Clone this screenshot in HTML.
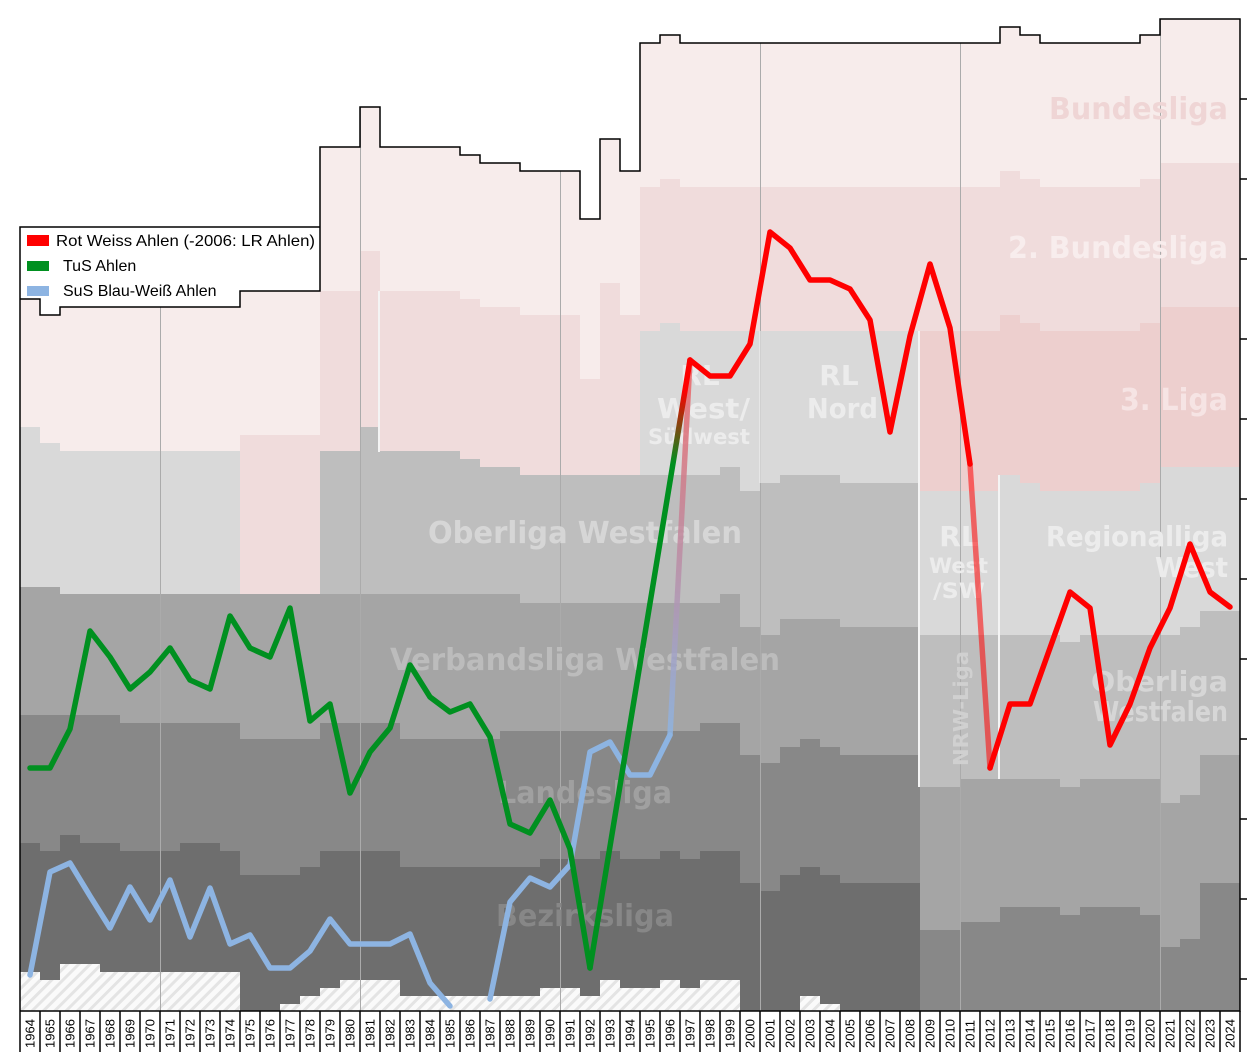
<!DOCTYPE html>
<html><head><meta charset="utf-8"><style>
html,body{margin:0;padding:0;background:#fff;}
svg{display:block;}
</style></head><body>
<svg id="s" xmlns="http://www.w3.org/2000/svg" width="1259" height="1061" viewBox="0 0 1259 1061">
<defs>
<pattern id="h" patternUnits="userSpaceOnUse" width="8" height="8" patternTransform="rotate(45)">
<rect width="8" height="8" fill="#fafafa"/><rect width="3" height="8" fill="#e4e4e4"/>
</pattern>
<linearGradient id="gb" gradientUnits="userSpaceOnUse" x1="670" y1="735" x2="690" y2="360">
<stop offset="0" stop-color="#8db4e2"/><stop offset="1" stop-color="#f06060"/></linearGradient>
<linearGradient id="gg" gradientUnits="userSpaceOnUse" x1="590" y1="968" x2="690" y2="360">
<stop offset="0" stop-color="#009020"/><stop offset="0.83" stop-color="#009020"/><stop offset="0.95" stop-color="#ff0000"/><stop offset="1" stop-color="#ff0000"/></linearGradient>
</defs>
<g id="bands"></g>
<g id="grid"></g>
<g fill="none" stroke="#f4f4f4" stroke-width="2">
<line x1="379" y1="291" x2="379" y2="452"/>
<line x1="919" y1="331" x2="919" y2="787"/>
<line x1="999" y1="475" x2="999" y2="779"/>
<line x1="760" y1="331" x2="760" y2="483" stroke-width="1"/>
</g>
<g font-family="'DejaVu Sans',sans-serif" font-weight="bold" lengthAdjust="spacingAndGlyphs">
<text x="1228" y="119" font-size="30" fill="#efd5d5" text-anchor="end" textLength="179" lengthAdjust="spacingAndGlyphs">Bundesliga</text>
<text x="1228" y="258" font-size="30" fill="#f8eded" text-anchor="end" textLength="220" lengthAdjust="spacingAndGlyphs">2. Bundesliga</text>
<text x="1228" y="410" font-size="30" fill="#f6e4e4" text-anchor="end" textLength="108" lengthAdjust="spacingAndGlyphs">3. Liga</text>
<text x="700" y="385" font-size="28" fill="#ececec" text-anchor="middle">RL</text>
<text x="657" y="418" font-size="28" fill="#ececec" textLength="93" lengthAdjust="spacingAndGlyphs">West/</text>
<text x="648" y="444" font-size="21" fill="#ececec" textLength="102" lengthAdjust="spacingAndGlyphs">Südwest</text>
<text x="839" y="385" font-size="28" fill="#ececec" text-anchor="middle">RL</text>
<text x="807" y="418" font-size="28" fill="#ececec" textLength="71" lengthAdjust="spacingAndGlyphs">Nord</text>
<text x="428" y="543" font-size="30" fill="#d6d6d6" textLength="314" lengthAdjust="spacingAndGlyphs">Oberliga Westfalen</text>
<text x="390" y="670" font-size="30" fill="#bcbcbc" textLength="390" lengthAdjust="spacingAndGlyphs">Verbandsliga Westfalen</text>
<text x="498" y="803" font-size="30" fill="#a0a0a0" textLength="174" lengthAdjust="spacingAndGlyphs">Landesliga</text>
<text x="496" y="926" font-size="30" fill="#878787" textLength="178" lengthAdjust="spacingAndGlyphs">Bezirksliga</text>
<text x="959" y="546" font-size="28" fill="#ececec" text-anchor="middle">RL</text>
<text x="929" y="573" font-size="21" fill="#ececec" textLength="59" lengthAdjust="spacingAndGlyphs">West</text>
<text x="933" y="598" font-size="21" fill="#ececec" textLength="52" lengthAdjust="spacingAndGlyphs">/SW</text>
<text transform="translate(968,766) rotate(-90)" font-size="20" fill="#d0d0d0" textLength="115" lengthAdjust="spacingAndGlyphs">NRW-Liga</text>
<text x="1228" y="546" font-size="28" fill="#ececec" text-anchor="end" textLength="182" lengthAdjust="spacingAndGlyphs">Regionalliga</text>
<text x="1228" y="577" font-size="28" fill="#ececec" text-anchor="end" textLength="73" lengthAdjust="spacingAndGlyphs">West</text>
<text x="1228" y="691" font-size="28" fill="#d6d6d6" text-anchor="end" textLength="137" lengthAdjust="spacingAndGlyphs">Oberliga</text>
<text x="1228" y="721" font-size="28" fill="#d6d6d6" text-anchor="end" textLength="135" lengthAdjust="spacingAndGlyphs">Westfalen</text>
</g>
<g fill="none" stroke-linejoin="round" stroke-linecap="round" stroke-width="5.5">
<polyline stroke="#8db4e2" points="30,975 50,872 70,863 90,896 110,928 130,887 150,920 170,880 190,937 210,888 230,944 250,935 270,968 290,968 310,951 330,919 350,944 370,944 390,944 410,934 430,983 450,1006"/>
<polyline stroke="#8db4e2" points="490,999 510,902 530,878 550,887 570,865 590,752 610,742 630,775 650,775 670,735"/>
<line x1="670" y1="735" x2="690" y2="360" stroke="url(#gb)" opacity="0.85"/>
<polyline stroke="#009020" points="30,768 50,768 70,729 90,631 110,657 130,689 150,672 170,648 190,680 210,689 230,616 250,648 270,657 290,608 310,721 330,704 350,793 370,752 390,728 410,665 430,697 450,712 470,704 490,737 510,824 530,833 550,800 570,849 590,968"/>
<line x1="590" y1="968" x2="690" y2="360" stroke="url(#gg)"/>
<polyline stroke="#ff0000" points="690,360 710,376 730,376 750,344 770,232 790,248 810,280 830,280 850,289 870,320 890,432 910,336 930,264 950,328 970,464"/>
<line x1="970" y1="464" x2="990" y2="768" stroke="#ff0000" opacity="0.55"/>
<polyline stroke="#ff0000" points="990,768 1010,704 1030,704 1050,648 1070,592 1090,608 1110,745 1130,704 1150,648 1170,608 1190,544 1210,592 1230,607"/>
</g>
<rect x="20" y="227" width="300" height="64" fill="#fff"/>
<path d="M20,1011 V227 H320 M20,299 H40 V315 H60 V307 H240 V291 H320 V147 H360 V107 H380 V147 H460 V155 H480 V163 H520 V171 H580 V219 H600 V139 H620 V171 H640 V43 H660 V35 H680 V43 H1000 V27 H1020 V35 H1040 V43 H1140 V35 H1160 V19 H1240 V1011 H20" fill="none" stroke="#000" stroke-width="1.5"/>
<rect x="27" y="235" width="22" height="11" fill="#ff0000"/>
<rect x="27" y="261" width="22" height="10" fill="#009020"/>
<rect x="27" y="286" width="22" height="10" fill="#8db4e2"/>
<g font-family="'Liberation Sans',sans-serif" font-size="16" fill="#000">
<text x="56" y="246" textLength="259" lengthAdjust="spacingAndGlyphs">Rot Weiss Ahlen (-2006: LR Ahlen)</text>
<text x="63" y="271">TuS Ahlen</text>
<text x="63" y="296">SuS Blau-Weiß Ahlen</text>
</g>
<g id="axis"></g>
</svg>
<script>
(function(){
var C={P1:"#f7eceb",P2:"#f0dcdc",P3:"#edcfce",L:"#d9d9d9",G1:"#bebebe",G2:"#a5a5a5",G3:"#888888",G4:"#6e6e6e",H:"url(#h)"};
var D=[
[20,40,"P1",299,"L",427,"G2",587,"G3",715,"G4",843,"H",972],
[40,60,"P1",315,"L",443,"G2",587,"G3",715,"G4",851,"H",980],
[60,80,"P1",307,"L",451,"G2",594,"G3",715,"G4",835,"H",964],
[80,100,"P1",307,"L",451,"G2",594,"G3",715,"G4",843,"H",964],
[100,120,"P1",307,"L",451,"G2",594,"G3",715,"G4",843,"H",972],
[120,180,"P1",307,"L",451,"G2",594,"G3",723,"G4",851,"H",972],
[180,220,"P1",307,"L",451,"G2",594,"G3",723,"G4",843,"H",972],
[220,240,"P1",307,"L",451,"G2",594,"G3",723,"G4",851,"H",972],
[240,280,"P1",291,"P2",435,"G2",594,"G3",739,"G4",875],
[280,300,"P1",291,"P2",435,"G2",594,"G3",739,"G4",875,"H",1004],
[300,320,"P1",291,"P2",435,"G2",594,"G3",739,"G4",867,"H",996],
[320,340,"P1",147,"P2",291,"G1",451,"G2",594,"G3",723,"G4",851,"H",988],
[340,360,"P1",147,"P2",291,"G1",451,"G2",594,"G3",723,"G4",851,"H",980],
[360,380,"P1",107,"P2",251,"G1",427,"G2",594,"G3",723,"G4",851,"H",980],
[380,400,"P1",147,"P2",291,"G1",451,"G2",594,"G3",723,"G4",851,"H",980],
[400,460,"P1",147,"P2",291,"G1",451,"G2",594,"G3",739,"G4",867,"H",996],
[460,480,"P1",155,"P2",299,"G1",459,"G2",594,"G3",739,"G4",867,"H",996],
[480,500,"P1",163,"P2",307,"G1",467,"G2",594,"G3",739,"G4",867,"H",996],
[500,520,"P1",163,"P2",307,"G1",467,"G2",594,"G3",731,"G4",867,"H",996],
[520,540,"P1",171,"P2",315,"G1",475,"G2",603,"G3",731,"G4",867,"H",996],
[540,580,"P1",171,"P2",315,"G1",475,"G2",603,"G3",731,"G4",859,"H",988],
[580,600,"P1",219,"P2",379,"G1",475,"G2",603,"G3",731,"G4",859,"H",996],
[600,620,"P1",139,"P2",283,"G1",475,"G2",603,"G3",731,"G4",851,"H",980],
[620,640,"P1",171,"P2",315,"G1",475,"G2",603,"G3",731,"G4",859,"H",988],
[640,660,"P1",43,"P2",187,"L",331,"G1",475,"G2",603,"G3",731,"G4",859,"H",988],
[660,680,"P1",35,"P2",179,"L",323,"G1",475,"G2",603,"G3",731,"G4",851,"H",980],
[680,700,"P1",43,"P2",187,"L",331,"G1",475,"G2",603,"G3",731,"G4",859,"H",988],
[700,720,"P1",43,"P2",187,"L",331,"G1",475,"G2",603,"G3",723,"G4",851,"H",980],
[720,740,"P1",43,"P2",187,"L",331,"G1",467,"G2",594,"G3",723,"G4",851,"H",980],
[740,760,"P1",43,"P2",187,"L",331,"G1",491,"G2",627,"G3",755,"G4",883],
[760,780,"P1",43,"P2",187,"L",331,"G1",483,"G2",635,"G3",763,"G4",891],
[780,800,"P1",43,"P2",187,"L",331,"G1",475,"G2",619,"G3",747,"G4",875],
[800,820,"P1",43,"P2",187,"L",331,"G1",475,"G2",619,"G3",739,"G4",867,"H",996],
[820,840,"P1",43,"P2",187,"L",331,"G1",475,"G2",619,"G3",747,"G4",875,"H",1004],
[840,920,"P1",43,"P2",187,"L",331,"G1",483,"G2",627,"G3",755,"G4",883],
[920,960,"P1",43,"P2",187,"P3",331,"L",491,"G1",635,"G2",787,"G3",930],
[960,1000,"P1",43,"P2",187,"P3",331,"L",491,"G1",635,"G2",779,"G3",922],
[1000,1020,"P1",27,"P2",171,"P3",315,"L",475,"G1",635,"G2",779,"G3",907],
[1020,1040,"P1",35,"P2",179,"P3",323,"L",483,"G1",635,"G2",779,"G3",907],
[1040,1060,"P1",43,"P2",187,"P3",331,"L",491,"G1",635,"G2",779,"G3",907],
[1060,1080,"P1",43,"P2",187,"P3",331,"L",491,"G1",642,"G2",787,"G3",915],
[1080,1140,"P1",43,"P2",187,"P3",331,"L",491,"G1",635,"G2",779,"G3",907],
[1140,1160,"P1",35,"P2",179,"P3",323,"L",483,"G1",635,"G2",779,"G3",915],
[1160,1180,"P1",19,"P2",163,"P3",307,"L",467,"G1",635,"G2",803,"G3",947],
[1180,1200,"P1",19,"P2",163,"P3",307,"L",467,"G1",627,"G2",795,"G3",939],
[1200,1240,"P1",19,"P2",163,"P3",307,"L",467,"G1",611,"G2",755,"G3",883]
];
var NS="http://www.w3.org/2000/svg",b=document.getElementById("bands"),h="";
var tops={};
D.forEach(function(r){
  var x0=r[0],x1=r[1];
  for(var x=x0;x<x1;x+=20)tops[x]=r[3];
  for(var i=2;i<r.length;i+=2){
    var y0=r[i+1],y1=(i+3<r.length)?r[i+3]:1011;
    h+='<rect x="'+x0+'" y="'+y0+'" width="'+(x1-x0)+'" height="'+(y1-y0)+'" fill="'+C[r[i]]+'"/>';
  }
});
b.innerHTML=h;
var g="";
[160,360,560,760,960,1160].forEach(function(x){
  var t=Math.min(tops[x]||1011,tops[x-20]||1011);
  g+='<line x1="'+(x+0.5)+'" y1="'+t+'" x2="'+(x+0.5)+'" y2="1011" stroke="#ababab" stroke-width="1"/>';
});
document.getElementById("grid").innerHTML=g;
var a="";
for(var k=0;k<=61;k++){var x=20+20*k;a+='<line x1="'+x+'" y1="1011" x2="'+x+'" y2="1052" stroke="#000" stroke-width="1.5"/>';}
for(var y=99;y<=979;y+=80){a+='<line x1="1240" y1="'+y+'" x2="1247" y2="'+y+'" stroke="#000" stroke-width="1.5"/>';}
for(var k=0;k<61;k++){var cx=30+20*k;a+='<text transform="translate('+(cx+4.5)+',1048) rotate(-90)" font-family="Liberation Sans,sans-serif" font-size="13" fill="#000">'+(1964+k)+'</text>';}
document.getElementById("axis").innerHTML=a;
})();
</script>
</body></html>
